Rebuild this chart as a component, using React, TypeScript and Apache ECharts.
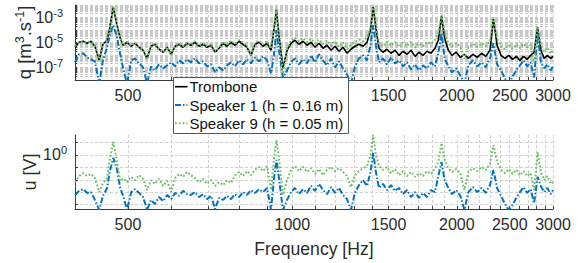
import React, { useEffect, useRef } from 'react';
import * as echarts from 'echarts';

// Frequency samples (Hz)
const freqHz = [
  400, 407, 414, 421, 428, 435, 443, 450, 458, 463,
  470, 477, 484, 490, 498, 507, 515, 524, 533, 542,
  551, 560, 570, 580, 590, 600, 610, 620, 631, 641,
  652, 663, 675, 686, 698, 710, 722, 734, 747, 759,
  772, 785, 799, 812, 826, 840, 854, 869, 884, 899,
  914, 925, 935, 945, 961, 978, 994, 1011, 1028, 1046,
  1064, 1082, 1100, 1119, 1138, 1157, 1177, 1197, 1217, 1238,
  1259, 1280, 1302, 1324, 1347, 1370, 1390, 1406, 1422, 1441,
  1465, 1490, 1516, 1541, 1568, 1594, 1621, 1649, 1677, 1705,
  1734, 1764, 1794, 1824, 1850, 1875, 1900, 1930, 1960, 1995,
  2030, 2065, 2100, 2140, 2180, 2220, 2260, 2300, 2334, 2370,
  2410, 2450, 2490, 2530, 2570, 2610, 2650, 2690, 2730, 2770,
  2812, 2850, 2890, 2930, 2970, 3000,
];

// q [m^3.s^-1], stored as log10 exponents
const qTromboneLog10 = [
  -5.38, -4.98, -4.9, -5.06, -4.9, -5.3, -6.4, -5.14, -4.82, -3.85,
  -2.16, -3.53, -4.66, -5.22, -4.98, -5.3, -5.06, -5.38, -5.62, -6.27,
  -5.3, -5.14, -5.54, -5.78, -5.38, -5.94, -5.3, -5.14, -5.38, -5.06,
  -5.22, -4.98, -5.3, -5.14, -5.38, -5.22, -5.78, -5.46, -5.06, -5.3,
  -4.98, -5.22, -4.9, -5.14, -5.38, -6.03, -5.14, -4.98, -5.3, -5.06,
  -5.62, -4.0, -2.4, -4.42, -7.07, -5.62, -5.06, -4.82, -5.14, -4.9,
  -5.22, -4.98, -5.38, -5.06, -5.46, -5.22, -5.62, -5.3, -5.7, -5.38,
  -5.86, -5.54, -5.3, -5.14, -5.3, -4.98, -4.0, -2.16, -3.85, -5.46,
  -5.78, -5.54, -5.86, -5.62, -6.03, -5.7, -5.94, -5.62, -6.11, -5.78,
  -6.03, -5.7, -5.86, -5.46, -4.82, -2.89, -4.66, -5.62, -6.03, -5.78,
  -6.19, -5.94, -6.27, -5.94, -6.19, -5.86, -6.11, -5.62, -3.13, -5.22,
  -6.03, -6.27, -6.03, -6.35, -6.11, -6.43, -6.11, -6.35, -6.03, -5.78,
  -3.77, -5.62, -6.27, -6.03, -6.27, -6.11,
];

const qSpeaker1Log10 = [
  -6.59, -5.94, -5.86, -6.19, -6.35, -6.51, -8.3, -6.43, -5.38, -4.42,
  -3.61, -4.5, -5.94, -7.07, -8.3, -6.43, -6.27, -6.67, -6.99, -8.3,
  -6.91, -7.23, -6.75, -7.07, -6.83, -6.59, -6.91, -6.43, -6.67, -6.35,
  -6.59, -6.27, -6.67, -6.51, -6.91, -6.75, -7.39, -6.99, -7.23, -6.83,
  -6.59, -6.91, -6.43, -6.75, -6.35, -6.67, -6.19, -6.51, -6.11, -6.43,
  -7.47, -6.03, -4.01, -5.62, -7.8, -7.23, -6.59, -6.27, -6.75, -6.35,
  -6.67, -6.03, -6.59, -5.94, -6.43, -6.83, -6.27, -6.99, -6.51, -7.07,
  -7.55, -8.3, -6.91, -6.27, -6.03, -6.43, -5.22, -3.61, -5.22, -6.59,
  -6.27, -6.75, -6.19, -6.67, -6.43, -6.91, -6.59, -7.15, -6.75, -7.23,
  -6.83, -7.07, -6.59, -6.91, -5.86, -4.25, -6.27, -6.91, -7.39, -7.07,
  -7.64, -8.3, -6.83, -6.43, -6.91, -6.59, -6.99, -6.27, -5.06, -6.75,
  -7.23, -7.88, -8.3, -7.72, -7.23, -6.83, -6.43, -6.91, -6.59, -7.8,
  -4.25, -6.59, -7.07, -6.75, -7.23, -6.91,
];

const qSpeaker9Log10 = [
  -5.3, -4.95, -4.95, -5.0, -4.95, -5.35, -6.5, -5.1, -4.8, -3.8,
  -2.15, -3.5, -4.6, -5.2, -4.95, -5.25, -5.0, -5.35, -5.6, -6.4,
  -5.25, -5.1, -5.5, -5.8, -5.35, -6.0, -5.25, -5.1, -5.3, -5.0,
  -5.2, -4.9, -5.25, -5.05, -5.3, -5.1, -5.8, -5.4, -4.95, -5.2,
  -4.85, -5.1, -4.8, -5.0, -5.3, -6.1, -5.0, -4.85, -5.15, -4.9,
  -5.5, -3.9, -2.3, -4.3, -7.5, -5.5, -4.85, -4.6, -4.9, -4.65,
  -4.95, -4.7, -5.05, -4.75, -5.1, -4.85, -5.25, -4.9, -5.35, -5.0,
  -5.5, -5.2, -4.95, -4.75, -4.9, -4.6, -3.8, -2.05, -3.6, -5.1,
  -5.3, -4.95, -5.25, -4.95, -5.35, -5.0, -5.3, -4.95, -5.4, -5.05,
  -5.3, -4.95, -5.1, -4.8, -4.3, -2.8, -4.2, -5.1, -5.3, -5.05,
  -5.35, -6.3, -5.4, -5.1, -5.35, -5.05, -5.3, -4.9, -3.0, -4.7,
  -5.35, -5.55, -5.2, -5.5, -5.15, -5.45, -5.1, -5.4, -5.2, -6.6,
  -3.7, -5.2, -5.7, -5.4, -5.9, -5.6,
];

// u [V], stored as log10 exponents
const uSpeaker1Log10 = [
  -0.97, -0.87, -0.83, -0.92, -0.9, -1.09, -1.33, -0.99, -0.8, -0.41,
  -0.07, -0.32, -0.8, -0.99, -1.33, -0.9, -0.83, -0.92, -1.02, -1.33,
  -1.09, -1.19, -1.02, -1.12, -0.97, -1.07, -0.92, -0.99, -0.87, -0.95,
  -0.97, -0.9, -1.02, -0.95, -1.07, -0.99, -1.31, -1.04, -1.09, -0.99,
  -1.07, -0.95, -1.02, -0.9, -0.97, -0.85, -0.92, -0.83, -0.9, -0.8,
  -1.33, -0.61, -0.12, -0.56, -1.33, -1.09, -0.9, -0.8, -0.95, -0.83,
  -0.92, -0.75, -0.87, -0.7, -0.85, -0.95, -0.78, -0.92, -0.8, -0.97,
  -1.07, -1.33, -0.92, -0.73, -0.61, -0.75, -0.41, 0.05, -0.41, -0.8,
  -0.7, -0.85, -0.73, -0.87, -0.8, -0.95, -0.85, -1.02, -0.9, -1.04,
  -0.92, -1.02, -0.85, -0.9, -0.51, -0.17, -0.61, -0.8, -0.95, -0.85,
  -0.99, -1.33, -0.9, -0.78, -0.9, -0.8, -0.92, -0.73, -0.36, -0.8,
  -0.99, -1.19, -1.33, -1.21, -1.04, -0.9, -0.78, -0.92, -0.83, -1.17,
  -0.53, -0.75, -0.9, -0.8, -0.95, -0.85,
];

const uSpeaker9Log10 = [
  -0.66, -0.51, -0.44, -0.51, -0.46, -0.56, -0.9, -0.68, -0.56, -0.12,
  0.32, -0.12, -0.63, -0.56, -0.66, -0.53, -0.61, -0.49, -0.58, -0.85,
  -0.61, -0.7, -0.58, -0.75, -0.63, -0.9, -0.56, -0.46, -0.53, -0.41,
  -0.49, -0.56, -0.66, -0.58, -0.7, -0.61, -0.75, -0.66, -0.73, -0.61,
  -0.68, -0.49, -0.41, -0.51, -0.39, -0.49, -0.36, -0.29, -0.39, -0.27,
  -0.85, -0.12, 0.36, -0.07, -0.97, -0.61, -0.36, -0.27, -0.39, -0.29,
  -0.41, -0.32, -0.46, -0.34, -0.49, -0.36, -0.29, -0.39, -0.32, -0.41,
  -0.51, -0.78, -0.49, -0.39, -0.32, -0.27, 0, 0.49, 0, -0.27,
  -0.36, -0.29, -0.44, -0.34, -0.49, -0.39, -0.51, -0.41, -0.53, -0.44,
  -0.51, -0.39, -0.46, -0.32, -0.17, 0.29, -0.12, -0.32, -0.41, -0.34,
  -0.44, -0.85, -0.41, -0.32, -0.39, -0.29, -0.36, -0.22, 0.24, -0.17,
  -0.36, -0.44, -0.34, -0.46, -0.36, -0.49, -0.39, -0.51, -0.44, -0.85,
  0.07, -0.41, -0.61, -0.51, -0.7, -0.66,
];

// Axis ticks
const xTickHz = [500, 1000, 1500, 2000, 2500, 3000];
const xTickHzTopVisible = [500, 1500, 2000, 2500, 3000]; // 1000 is hidden behind the legend
const xGridHz = [
  400, 500, 600, 700, 800, 900, 1000, 1100, 1200, 1300, 1400, 1500, 1600, 1700,
  1800, 1900, 2000, 2100, 2200, 2300, 2400, 2500, 2600, 2700, 2800, 2900, 3000,
];
const qLabelExp = [-7, -5, -3];
const qDecadeExp = [-8, -7, -6, -5, -4, -3, -2];
const uGridV = [2, 1, 0.5, 0.25, 0.125, 0.0625];
const uLabelV = [1];

const names = ['Trombone', 'Speaker 1 (h = 0.16 m)', 'Speaker 9 (h = 0.05 m)'];
const colors = ['#000000', '#0072BD', '#6CC062'];
const dashes: (number[] | null)[] = [null, [6, 2, 1.5, 2], [1.8, 2]];
const widths = [1.6, 2, 2];

export default function App() {
  const ref = useRef<HTMLDivElement>(null);
  useEffect(() => {
    const chart = echarts.init(ref.current!, null, { renderer: 'svg' });
    const L = Math.log10;
    const font = 'Liberation Sans, Arial, Helvetica, sans-serif';
    const txt = '#2b2b2b';
    const axisCol = '#3c3c3c';
    const gridCol = '#d0d0d0';

    const qGrid: number[] = [];
    qDecadeExp.forEach((n) => {
      qGrid.push(n);
      if (n < -2) for (let k = 2; k <= 9; k++) qGrid.push(n + L(k));
    });

    const xAxis = (gridIndex: number, labels: number[]) => ({
      type: 'value',
      gridIndex,
      min: L(400),
      max: L(3000),
      axisLine: { show: true, onZero: false, lineStyle: { color: axisCol, width: 1 } },
      axisTick: {
        show: true, inside: true, length: 3,
        customValues: xGridHz.map(L),
        lineStyle: { color: axisCol },
      },
      axisLabel: {
        customValues: labels.map(L),
        formatter: (v: number) => String(Math.round(Math.pow(10, v))),
        fontSize: 16, color: txt, margin: 7, fontFamily: font,
      },
      splitLine: { show: true, lineStyle: { color: gridCol, type: [3, 2], width: 1 } },
    });

    const supRich = {
      b: { fontSize: 16, color: txt, fontFamily: font },
      s: { fontSize: 11, color: txt, fontFamily: font, padding: [0, 0, 9, 0] },
    };

    const pts = (arr: number[]) => freqHz.map((f, i) => [L(f), arr[i]]);
    const lineSeries = (k: number, grid: number, arr: number[]) => ({
      name: names[k], type: 'line', xAxisIndex: grid, yAxisIndex: grid, data: pts(arr),
      symbol: 'none', z: 2 + k,
      lineStyle: { color: colors[k], width: widths[k], type: dashes[k] || 'solid' },
      itemStyle: { color: colors[k] },
    });

    // legend box drawn with graphic elements
    const lgX = 173.5, lgY = 77.5, lgW = 175, lgH = 56, rowY0 = 86.7, rowDy = 18.3;
    const legendEls: any[] = [
      { type: 'rect', shape: { x: lgX, y: lgY, width: lgW, height: lgH }, style: { fill: '#fff', stroke: '#555', lineWidth: 1 }, z: 100 },
    ];
    names.forEach((nm, k) => {
      const y = rowY0 + k * rowDy;
      legendEls.push({
        type: 'line', shape: { x1: 175, y1: y, x2: 187.5, y2: y },
        style: { stroke: colors[k], lineWidth: widths[k], lineDash: dashes[k] || null }, z: 101,
      });
      legendEls.push({
        type: 'text', x: 189.5, y,
        style: { text: nm, fontSize: 15, fontFamily: font, fill: '#111', verticalAlign: 'middle', align: 'left' }, z: 101,
      });
    });

    const option: any = {
      animation: false,
      backgroundColor: '#fff',
      grid: [
        { left: 75, top: 5, width: 478, height: 75 },
        { left: 75, top: 135, width: 478, height: 74 },
      ],
      xAxis: [xAxis(0, xTickHzTopVisible), {
        ...xAxis(1, xTickHz),
        name: 'Frequency [Hz]', nameLocation: 'middle', nameGap: 31, nameMoveOverlap: false,
        nameTextStyle: { fontSize: 17.6, color: txt, fontFamily: font, verticalAlign: 'top' },
      }],
      yAxis: [
        {
          type: 'value', gridIndex: 0, min: -8, max: -2,
          axisLine: { show: true, lineStyle: { color: axisCol, width: 1 } },
          axisTick: { show: true, inside: true, length: 2, customValues: qGrid, lineStyle: { color: axisCol } },
          axisLabel: {
            customValues: qLabelExp,
            formatter: (v: number) => `{b|10}{s|${Math.round(v)}}`,
            rich: supRich, margin: 12,
          },
          splitLine: { show: true, lineStyle: { color: '#c8c8c8', type: [3, 2], width: 1 } },
          name: '{a|q [m}{s|3}{a|.s}{s|-1}{a|]}',
          nameLocation: 'middle', nameRotate: 90, nameGap: 40, nameMoveOverlap: false,
          nameTextStyle: {
            rich: {
              a: { fontSize: 18.5, color: txt, fontFamily: font },
              s: { fontSize: 12.5, color: txt, fontFamily: font, padding: [0, 0, 9, 0] },
            },
          },
        },
        {
          type: 'value', gridIndex: 1, min: -1.31, max: 0.485,
          axisLine: { show: true, lineStyle: { color: axisCol, width: 1 } },
          axisTick: { show: true, inside: true, length: 3, customValues: uGridV.map(L), lineStyle: { color: axisCol } },
          axisLabel: {
            customValues: uLabelV.map(L),
            formatter: (v: number) => `{b|10}{s|${Math.round(v)}}`,
            rich: supRich, margin: 8,
          },
          splitLine: { show: true, lineStyle: { color: gridCol, type: [3, 2], width: 1 } },
          name: 'u [V]', nameLocation: 'middle', nameRotate: 90, nameGap: 36, nameMoveOverlap: false,
          nameTextStyle: { fontSize: 18, color: txt, fontFamily: font },
        },
      ],
      graphic: { elements: legendEls },
      series: [
        lineSeries(0, 0, qTromboneLog10),
        lineSeries(1, 0, qSpeaker1Log10),
        lineSeries(2, 0, qSpeaker9Log10),
        lineSeries(1, 1, uSpeaker1Log10),
        lineSeries(2, 1, uSpeaker9Log10),
      ],
    };
    chart.setOption(option);
    return () => chart.dispose();
  }, []);
  return <div ref={ref} style={{ position: 'absolute', left: 0, top: 0, width: 585, height: 263 }} />;
}
